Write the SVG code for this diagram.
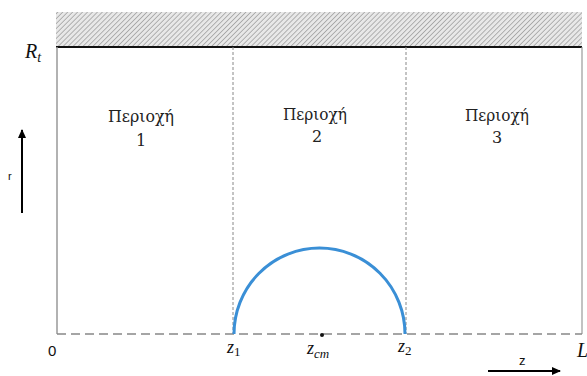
<svg xmlns="http://www.w3.org/2000/svg" width="587" height="376" viewBox="0 0 587 376">
<defs>
<pattern id="hatch" patternUnits="userSpaceOnUse" width="3.5" height="3.5" patternTransform="rotate(45)">
<rect width="3.5" height="3.5" fill="#e8e8e8"/>
<line x1="0" y1="0" x2="0" y2="3.5" stroke="#8a8a8a" stroke-width="1.2"/>
</pattern>
<marker id="arr" markerWidth="10" markerHeight="10" refX="8" refY="5" orient="auto" markerUnits="userSpaceOnUse">
<path d="M0,1 L9,5 L0,9 Z" fill="#000"/>
</marker>
<style>
.reg{font-size:16px;fill:#222;text-anchor:middle}
.math{font-style:italic;fill:#111}
.sans{fill:#111}
.dash{stroke:#888;stroke-width:1;stroke-dasharray:3,2;fill:none}
</style>
</defs>
<g id="wall">
<rect x="56" y="12" width="526" height="34" fill="url(#hatch)"/>
<line x1="56" y1="47" x2="582" y2="47" stroke="#111" stroke-width="2"/>
</g>
<g id="domain">
<line x1="57" y1="47" x2="57" y2="334" stroke="#999" stroke-width="1.5"/>
<line x1="582" y1="47" x2="582" y2="334" stroke="#999" stroke-width="1.2"/>
<line x1="57" y1="334" x2="582" y2="334" stroke="#888" stroke-width="1.5" stroke-dasharray="9,5"/>
</g>
<g id="connectors">
<line class="dash" x1="233" y1="47" x2="233" y2="334"/>
<line class="dash" x1="406" y1="47" x2="406" y2="334"/>
<line x1="22" y1="213" x2="22" y2="130" stroke="#000" stroke-width="2" marker-end="url(#arr)"/>
<line x1="488" y1="371" x2="560" y2="371" stroke="#000" stroke-width="2" marker-end="url(#arr)"/>
</g>
<g id="region1" font-family="'DejaVu Serif','Liberation Serif',serif"><text class="reg" x="141" y="122" textLength="66" lengthAdjust="spacingAndGlyphs">Περιοχή</text><text class="reg" x="141" y="146">1</text></g>
<g id="region2" font-family="'DejaVu Serif','Liberation Serif',serif"><text class="reg" x="315" y="120" textLength="64" lengthAdjust="spacingAndGlyphs">Περιοχή</text><text class="reg" x="317" y="142">2</text></g>
<g id="region3" font-family="'DejaVu Serif','Liberation Serif',serif"><text class="reg" x="497" y="121" textLength="64" lengthAdjust="spacingAndGlyphs">Περιοχή</text><text class="reg" x="497" y="143">3</text></g>
<g id="bubble">
<path d="M234,334 A85.5,86 0 0 1 405,334" fill="none" stroke="#3a8fd6" stroke-width="3"/>
<circle cx="322" cy="335" r="2" fill="#111"/>
</g>
<g id="labels" font-family="'Liberation Serif','DejaVu Serif',serif">
<text class="math" x="25" y="58" font-size="20">R<tspan font-size="14" dy="4">t</tspan></text>
<text class="sans" x="48" y="356" font-size="15" font-family="'Liberation Sans',sans-serif">0</text>
<text class="math" x="227" y="353" font-size="18">z<tspan font-size="13" dy="3" font-style="normal">1</tspan></text>
<text class="math" x="307" y="354" font-size="18">z<tspan font-size="13" dy="4">cm</tspan></text>
<text class="math" x="398" y="352" font-size="18">z<tspan font-size="13" dy="3" font-style="normal">2</tspan></text>
<text class="math" x="577" y="357" font-size="20">L</text>
<text class="sans" x="8" y="180" font-size="11" font-family="'Liberation Sans',sans-serif">r</text>
<text class="sans" x="519" y="365" font-size="13" font-family="'Liberation Sans',sans-serif">z</text>
</g>
</svg>
